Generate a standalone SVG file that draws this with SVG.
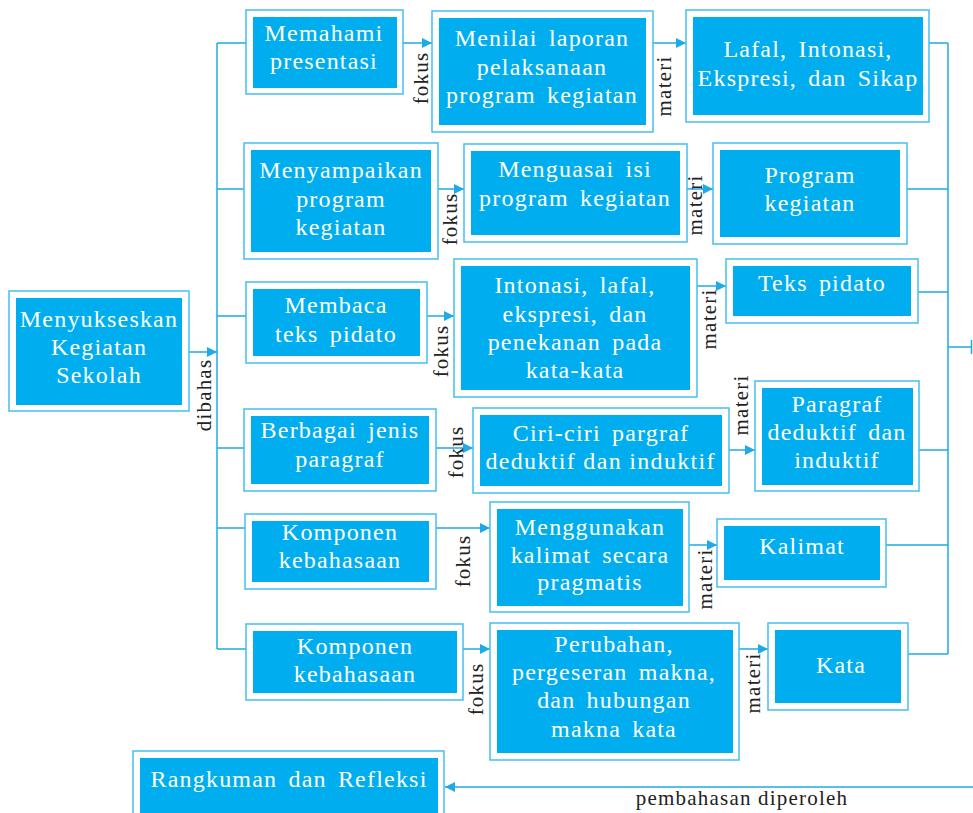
<svg xmlns="http://www.w3.org/2000/svg" width="973" height="813" viewBox="0 0 973 813">
<style>
.o{fill:#fff;stroke:#45bff0;stroke-width:1.5}
.i{fill:#00aeef}
.t{fill:#fff;font-family:"Liberation Serif",serif;font-size:24px;letter-spacing:1.2px;word-spacing:4px;text-anchor:middle}
.l{fill:#222;font-family:"Liberation Serif",serif;font-size:21px;letter-spacing:1.2px;text-anchor:middle}
.c{fill:none;stroke:#1eaae6;stroke-width:1.5}
</style>
<defs>
<marker id="ah" markerUnits="userSpaceOnUse" markerWidth="11" markerHeight="11" refX="10" refY="5" orient="auto">
<path d="M0,0 L10,5 L0,10 z" fill="#1eaae6"/>
</marker>
</defs>
<rect width="973" height="813" fill="#fff"/>
<g id="connectors">
<path class="c" d="M217,43 V649"/>
<path class="c" d="M217,43 H246 M217,189 H244 M217,316 H246 M217,448 H244 M217,528 H245 M217,649 H246"/>
<path class="c" d="M189,352 H217" marker-end="url(#ah)"/>
<path class="c" d="M403,43 H432" marker-end="url(#ah)"/>
<path class="c" d="M653,43 H686" marker-end="url(#ah)"/>
<path class="c" d="M438,189 H464" marker-end="url(#ah)"/>
<path class="c" d="M687,189 H713" marker-end="url(#ah)"/>
<path class="c" d="M427,316 H454" marker-end="url(#ah)"/>
<path class="c" d="M697,286 H726" marker-end="url(#ah)"/>
<path class="c" d="M436,448 H473" marker-end="url(#ah)"/>
<path class="c" d="M729,450 H755" marker-end="url(#ah)"/>
<path class="c" d="M436,528 H490" marker-end="url(#ah)"/>
<path class="c" d="M689,545 H717" marker-end="url(#ah)"/>
<path class="c" d="M463,649 H490" marker-end="url(#ah)"/>
<path class="c" d="M739,649 H768" marker-end="url(#ah)"/>
<path class="c" d="M948,43 V654"/>
<path class="c" d="M929,43 H948 M907,189 H948 M918,292 H948 M919,450 H948 M886,545 H948 M908,654 H948"/>
<path class="c" d="M948,347 H972 M971.5,340 V354"/>
<path class="c" d="M973,787 H445" marker-end="url(#ah)"/>
<text class="l" transform="translate(211,395) rotate(-90)">dibahas</text>
<text class="l" transform="translate(428,78) rotate(-90)">fokus</text>
<text class="l" transform="translate(671,86) rotate(-90)">materi</text>
<text class="l" transform="translate(457,219) rotate(-90)">fokus</text>
<text class="l" transform="translate(702,205) rotate(-90)">materi</text>
<text class="l" transform="translate(448,351) rotate(-90)">fokus</text>
<text class="l" transform="translate(716,319) rotate(-90)">materi</text>
<text class="l" transform="translate(463,452) rotate(-90)">fokus</text>
<text class="l" transform="translate(748,405) rotate(-90)">materi</text>
<text class="l" transform="translate(470,561) rotate(-90)">fokus</text>
<text class="l" transform="translate(712,579) rotate(-90)">materi</text>
<text class="l" transform="translate(483,689) rotate(-90)">fokus</text>
<text class="l" transform="translate(760,683) rotate(-90)">materi</text>
<text class="l" x="742" y="805">pembahasan diperoleh</text>
</g>
<g id="n0"><rect class="o" x="9" y="291" width="180" height="120"/><rect class="i" x="16" y="298" width="166" height="107"/>
<text class="t"><tspan x="99" y="327">Menyukseskan</tspan><tspan x="99" y="355">Kegiatan</tspan><tspan x="99" y="383">Sekolah</tspan></text></g>
<g id="n1"><rect class="o" x="246" y="10" width="157" height="84"/><rect class="i" x="253" y="17" width="144" height="71"/>
<text class="t"><tspan x="324" y="41">Memahami</tspan><tspan x="324" y="69">presentasi</tspan></text></g>
<g id="n2"><rect class="o" x="432" y="11" width="221" height="121"/><rect class="i" x="439" y="18" width="207" height="107"/>
<text class="t"><tspan x="542" y="46">Menilai laporan</tspan><tspan x="542" y="75">pelaksanaan</tspan><tspan x="542" y="103">program kegiatan</tspan></text></g>
<g id="n3"><rect class="o" x="686" y="10" width="243" height="112"/><rect class="i" x="693" y="17" width="230" height="98"/>
<text class="t"><tspan x="808" y="57">Lafal, Intonasi,</tspan><tspan x="808" y="86">Ekspresi, dan Sikap</tspan></text></g>
<g id="n4"><rect class="o" x="244" y="143" width="194" height="116"/><rect class="i" x="251" y="150" width="180" height="102"/>
<text class="t"><tspan x="341" y="178">Menyampaikan</tspan><tspan x="341" y="207">program</tspan><tspan x="341" y="235">kegiatan</tspan></text></g>
<g id="n5"><rect class="o" x="464" y="144" width="223" height="98"/><rect class="i" x="471" y="151" width="209" height="84"/>
<text class="t"><tspan x="575" y="177">Menguasai isi</tspan><tspan x="575" y="206">program kegiatan</tspan></text></g>
<g id="n6"><rect class="o" x="713" y="143" width="194" height="101"/><rect class="i" x="720" y="150" width="180" height="87"/>
<text class="t"><tspan x="810" y="183">Program</tspan><tspan x="810" y="211">kegiatan</tspan></text></g>
<g id="n7"><rect class="o" x="246" y="282" width="181" height="81"/><rect class="i" x="253" y="289" width="167" height="67"/>
<text class="t"><tspan x="336" y="313">Membaca</tspan><tspan x="336" y="342">teks pidato</tspan></text></g>
<g id="n8"><rect class="o" x="454" y="259" width="243" height="138"/><rect class="i" x="461" y="266" width="229" height="124"/>
<text class="t"><tspan x="575" y="293">Intonasi, lafal,</tspan><tspan x="575" y="322">ekspresi, dan</tspan><tspan x="575" y="350">penekanan pada</tspan><tspan x="575" y="378">kata-kata</tspan></text></g>
<g id="n9"><rect class="o" x="726" y="259" width="192" height="64"/><rect class="i" x="733" y="266" width="178" height="50"/>
<text class="t" x="822" y="291">Teks pidato</text></g>
<g id="n10"><rect class="o" x="244" y="409" width="192" height="82"/><rect class="i" x="251" y="416" width="178" height="68"/>
<text class="t"><tspan x="340" y="438">Berbagai jenis</tspan><tspan x="340" y="467">paragraf</tspan></text></g>
<g id="n11"><rect class="o" x="473" y="408" width="256" height="85"/><rect class="i" x="480" y="415" width="242" height="71"/>
<text class="t" x="601" y="441">Ciri-ciri pargraf</text>
<text class="t" x="600" y="469" style="letter-spacing:0;word-spacing:0" textLength="229" lengthAdjust="spacing">deduktif dan induktif</text></g>
<g id="n12"><rect class="o" x="755" y="381" width="164" height="110"/><rect class="i" x="762" y="388" width="151" height="97"/>
<text class="t"><tspan x="837" y="412">Paragraf</tspan><tspan x="837" y="440">deduktif dan</tspan><tspan x="837" y="468">induktif</tspan></text></g>
<g id="n13"><rect class="o" x="245" y="514" width="191" height="75"/><rect class="i" x="252" y="521" width="177" height="61"/>
<text class="t"><tspan x="340" y="540">Komponen</tspan><tspan x="340" y="568">kebahasaan</tspan></text></g>
<g id="n14"><rect class="o" x="490" y="502" width="199" height="110"/><rect class="i" x="497" y="509" width="186" height="97"/>
<text class="t"><tspan x="590" y="535">Menggunakan</tspan><tspan x="590" y="563">kalimat secara</tspan><tspan x="590" y="590">pragmatis</tspan></text></g>
<g id="n15"><rect class="o" x="717" y="519" width="169" height="68"/><rect class="i" x="724" y="526" width="156" height="54"/>
<text class="t" x="802" y="554">Kalimat</text></g>
<g id="n16"><rect class="o" x="246" y="624" width="217" height="76"/><rect class="i" x="253" y="631" width="204" height="62"/>
<text class="t"><tspan x="355" y="654">Komponen</tspan><tspan x="355" y="682">kebahasaan</tspan></text></g>
<g id="n17"><rect class="o" x="490" y="623" width="249" height="137"/><rect class="i" x="497" y="630" width="236" height="123"/>
<text class="t"><tspan x="614" y="652">Perubahan,</tspan><tspan x="614" y="680">pergeseran makna,</tspan><tspan x="614" y="708">dan hubungan</tspan><tspan x="614" y="737">makna kata</tspan></text></g>
<g id="n18"><rect class="o" x="768" y="623" width="140" height="87"/><rect class="i" x="775" y="630" width="126" height="73"/>
<text class="t" x="841" y="673">Kata</text></g>
<g id="n19"><rect class="o" x="133" y="751" width="311" height="75"/><rect class="i" x="140" y="758" width="298" height="62"/>
<text class="t" x="289" y="787">Rangkuman dan Refleksi</text></g>
</svg>
